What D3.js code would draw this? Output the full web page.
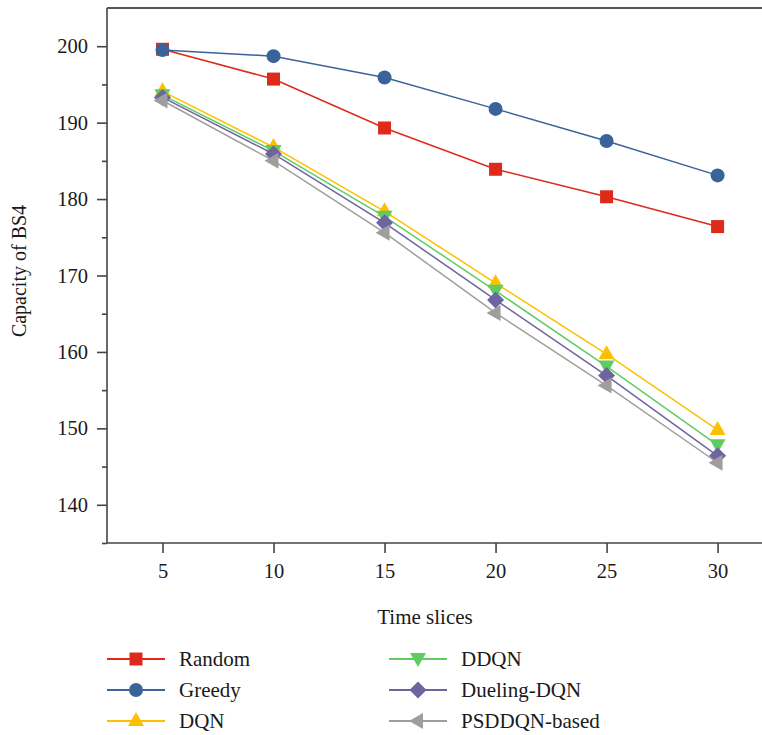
<!DOCTYPE html>
<html>
<head>
<meta charset="utf-8">
<script src="https://cdn.jsdelivr.net/npm/d3@7"></script>
<style>
  body { margin: 0; background: #fff; }
  svg text { font-family: "Liberation Serif", "DejaVu Serif", serif; fill: #1a1a1a; }
</style>
</head>
<body>
<div id="chart"></div>
<script>
// data
var timeSlices = [5, 10, 15, 20, 25, 30];
var random   = [199.6, 195.7, 189.3, 183.9, 180.3, 176.4];
var greedy   = [199.5, 198.7, 195.9, 191.8, 187.6, 183.1];
var dqn      = [194.1, 186.8, 178.4, 169.0, 159.7, 149.8];
var ddqn     = [193.6, 186.3, 177.7, 168.0, 158.1, 147.8];
var dueling  = [193.3, 185.9, 176.9, 166.8, 156.9, 146.4];
var psddqn   = [192.9, 185.0, 175.6, 165.1, 155.6, 145.5];
var seriesNames = ["Random", "Greedy", "DQN", "DDQN", "Dueling-DQN", "PSDDQN-based"];
var yTicks = [140, 150, 160, 170, 180, 190, 200];
var xTicks = [5, 10, 15, 20, 25, 30];

var colors = ["#dd2a1b", "#3a6399", "#fcc000", "#5ecd61", "#6e64a0", "#a09e9c"];
var shapes = ["square", "circle", "up", "down", "diamond", "left"];
var allValues = [random, greedy, dqn, ddqn, dueling, psddqn];

var series = seriesNames.map(function (n, i) {
    return { name: n, color: colors[i], shape: shapes[i],
             values: timeSlices.map(function (t, j) { return { x: t, y: allValues[i][j] }; }) };
});

var width = 762, height = 735;
var margin = { top: 8, right: 0, bottom: 192, left: 107 };

var svg = d3.select("#chart").append("svg")
    .attr("width", width)
    .attr("height", height);

var x = d3.scaleLinear().domain([2.5, 32]).range([margin.left, width - margin.right]);
var y = d3.scaleLinear().domain([135, 205]).range([height - margin.bottom, margin.top]);

// marker paths
function marker(shape) {
    var h;
    switch (shape) {
        case "square": h = 6.5; return "M" + -h + "," + -h + "H" + h + "V" + h + "H" + -h + "Z";
        case "circle": h = 7; return "M" + h + ",0A" + h + "," + h + " 0 1,1 " + -h + ",0A" + h + "," + h + " 0 1,1 " + h + ",0Z";
        case "up": return "M0,-9L8,5H-8Z";
        case "down": return "M0,8L8,-6H-8Z";
        case "diamond": return "M0,-8.5L8.5,0L0,8.5L-8.5,0Z";
        case "left": return "M-9,0L5,-8V8Z";
    }
}

// axes
var yAxis = d3.axisLeft(y).tickValues(yTicks).tickSize(10).tickPadding(9).tickFormat(d3.format("d"));
var yMinor = d3.axisLeft(y).tickValues([135, 145, 155, 165, 175, 185, 195]).tickSize(5).tickFormat("");
var xAxis = d3.axisBottom(x).tickValues(xTicks).tickSize(10).tickPadding(10).tickFormat(d3.format("d"));

var gy = svg.append("g").attr("transform", "translate(" + margin.left + ",0)").call(yAxis);
svg.append("g").attr("transform", "translate(" + margin.left + ",0)").call(yMinor).select(".domain").remove();
var gx = svg.append("g").attr("transform", "translate(0," + (height - margin.bottom) + ")").call(xAxis);

[gy, gx].forEach(function (g) {
    g.selectAll("text").style("font-size", "20.5px").attr("fill", "#1a1a1a");
});
svg.selectAll(".domain, .tick line").attr("stroke", "#444").attr("stroke-width", 1.6);
gy.select(".domain").attr("d", "M0," + y(205) + "V" + y(135));
gx.select(".domain").attr("d", "M" + x(2.5) + ",0H" + x(32));

// top border
svg.append("line")
    .attr("x1", x(2.5)).attr("x2", x(32))
    .attr("y1", y(205)).attr("y2", y(205))
    .attr("stroke", "#555").attr("stroke-width", 2.2);

// axis titles
svg.append("text")
    .attr("transform", "translate(26," + 271 + ") rotate(-90)")
    .attr("text-anchor", "middle")
    .style("font-size", "20px")
    .text("Capacity of BS4");

svg.append("text")
    .attr("x", 425).attr("y", 624)
    .attr("text-anchor", "middle")
    .style("font-size", "21px")
    .text("Time slices");

// lines and markers
var line = d3.line().x(function (d) { return x(d.x); }).y(function (d) { return y(d.y); });

series.forEach(function (s) {
    var g = svg.append("g");
    g.append("path")
        .datum(s.values)
        .attr("d", line)
        .attr("fill", "none")
        .attr("stroke", s.color)
        .attr("stroke-width", 1.5);
    g.selectAll("path.mk")
        .data(s.values)
        .enter().append("path")
        .attr("class", "mk")
        .attr("transform", function (d) { return "translate(" + x(d.x) + "," + y(d.y) + ")"; })
        .attr("d", marker(s.shape))
        .attr("fill", s.color);
});

// legend
var legend = svg.append("g");
series.forEach(function (s, i) {
    var col = Math.floor(i / 3), row = i % 3;
    var lx = col === 0 ? 107 : 389;
    var ly = 659 + row * 31;
    var g = legend.append("g").attr("transform", "translate(" + lx + "," + ly + ")");
    g.append("line").attr("x1", 0).attr("x2", 58).attr("y1", 0).attr("y2", 0)
        .attr("stroke", s.color).attr("stroke-width", 1.8);
    g.append("path").attr("transform", "translate(29,0)").attr("d", marker(s.shape)).attr("fill", s.color);
    g.append("text").attr("x", 72).attr("y", 7).style("font-size", "21px").text(s.name);
});
</script>
</body>
</html>
